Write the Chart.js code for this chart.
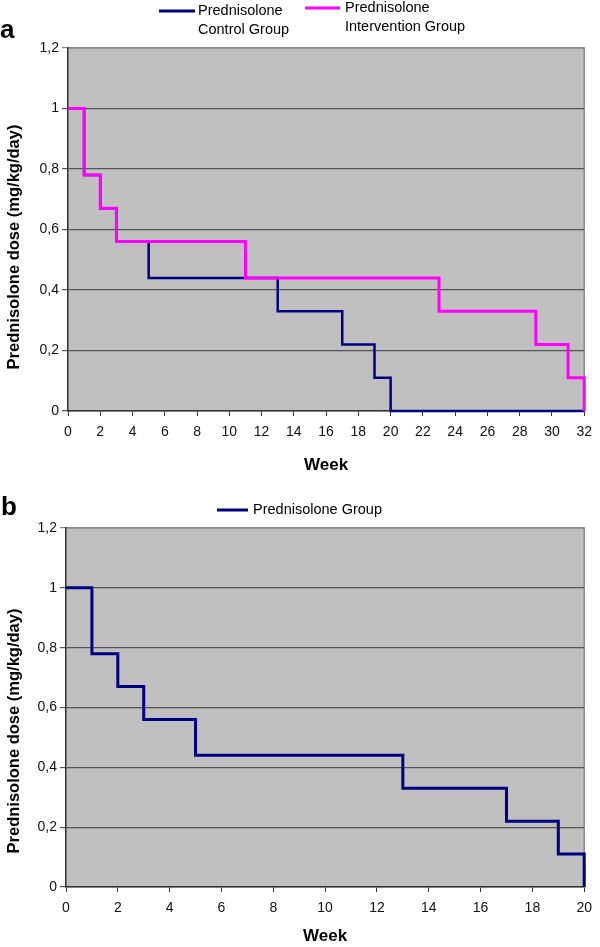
<!DOCTYPE html>
<html><head><meta charset="utf-8">
<script src="https://cdn.jsdelivr.net/npm/chart.js@4.4.1/dist/chart.umd.min.js"></script>
<style>
html,body{margin:0;padding:0;background:#fff;width:600px;height:947px;overflow:hidden;}
.wrap{position:absolute;left:0;width:600px;}
</style></head><body>
<div class="wrap" style="top:0;height:480px"><canvas id="chartA"></canvas></div>
<div class="wrap" style="top:480px;height:467px"><canvas id="chartB"></canvas></div>
<script>
// ---- data ----
const weeksControl = [0, 1, 2, 3, 5, 13, 17, 19, 20, 32];
const doseControl = [1, 0.78, 0.67, 0.56, 0.44, 0.33, 0.22, 0.11, 0, 0];
const weeksIntervention = [0, 1, 2, 3, 11, 23, 29, 31, 32];
const doseIntervention = [1, 0.78, 0.67, 0.56, 0.44, 0.33, 0.22, 0.11, 0];
const weeksGroupB = [0, 1, 2, 3, 5, 13, 17, 19, 20];
const doseGroupB = [1, 0.78, 0.67, 0.56, 0.44, 0.33, 0.22, 0.11, 0];
const yTickValues = [0, 0.2, 0.4, 0.6, 0.8, 1, 1.2];
const yTickLabels = ['0', '0,2', '0,4', '0,6', '0,8', '1', '1,2'];
const seriesNamesA = [['Prednisolone', 'Control Group'], ['Prednisolone', 'Intervention Group']];
const seriesNameB = ['Prednisolone Group'];
const yTitle = 'Prednisolone dose (mg/kg/day)';
const xTitle = 'Week';

const FONT = '"Liberation Sans", Arial, sans-serif';
const NAVY = '#000080', MAGENTA = '#FF00FF';

function pts(xs, ys) { return xs.map((x, i) => ({x: x, y: ys[i]})); }
function yLabel(v) {
  const i = yTickValues.findIndex(t => Math.abs(t - v) < 1e-6);
  return i >= 0 ? yTickLabels[i] : '';
}

const annotPlugin = {
  id: 'annot',
  beforeDraw(chart, args, o) {
    const {ctx, chartArea: a} = chart;
    ctx.save();
    ctx.fillStyle = '#C0C0C0';
    ctx.fillRect(a.left, a.top, a.right - a.left, a.bottom - a.top);
    ctx.strokeStyle = '#8a8a8a'; ctx.lineWidth = 1.5;
    ctx.beginPath();
    ctx.moveTo(a.left, a.top); ctx.lineTo(a.right, a.top); ctx.lineTo(a.right, a.bottom);
    ctx.stroke();
    ctx.restore();
  },
  afterDraw(chart, args, o) {
    const ctx = chart.ctx;
    ctx.save();
    ctx.fillStyle = '#000';
    ctx.font = 'bold 26px ' + FONT;
    ctx.textAlign = 'left'; ctx.textBaseline = 'alphabetic';
    ctx.fillText(o.panel.text, o.panel.x, o.panel.y);
    ctx.save();
    ctx.translate(o.yTitle.x, o.yTitle.y);
    ctx.rotate(-Math.PI / 2);
    ctx.font = 'bold 16.5px ' + FONT;
    ctx.textAlign = 'center'; ctx.textBaseline = 'middle';
    ctx.fillText(yTitle, 0, 0);
    ctx.restore();
    o.legend.forEach(item => {
      ctx.strokeStyle = item.color; ctx.lineWidth = 3;
      ctx.beginPath(); ctx.moveTo(item.x1, item.y); ctx.lineTo(item.x2, item.y); ctx.stroke();
      ctx.fillStyle = '#000';
      ctx.font = '14.5px ' + FONT;
      ctx.textAlign = 'left'; ctx.textBaseline = 'middle';
      item.text.forEach((t, i) => ctx.fillText(t, item.tx, item.y + i * item.gap));
    });
    ctx.restore();
  }
};

function scales(xMax, yWidth, xHeight, titlePadBottom) {
  return {
    x: {
      type: 'linear', min: 0, max: xMax,
      afterFit: s => { s.height = xHeight; },
      ticks: { stepSize: 2, autoSkip: false, maxRotation: 0, padding: 8,
               color: '#111', font: { family: FONT, size: 14 } },
      grid: { drawOnChartArea: false, drawTicks: true, tickLength: 5, color: '#333', lineWidth: 1 },
      border: { display: true, color: '#333', width: 1.5 },
      title: { display: true, text: xTitle, color: '#000',
               font: { family: FONT, size: 17, weight: 'bold' },
               padding: { top: 0, bottom: titlePadBottom } }
    },
    y: {
      min: 0, max: 1.2,
      afterFit: s => { s.width = yWidth; },
      afterBuildTicks: s => { s.ticks = yTickValues.map(v => ({value: v})); },
      ticks: { padding: 3, color: '#111', font: { family: FONT, size: 14 },
               callback: v => yLabel(v) },
      grid: { drawTicks: true, tickLength: 6,
              color: c => (c.tick && Math.abs(c.tick.value - 1.2) < 1e-6) ? '#8a8a8a' : '#555',
              lineWidth: 1.2 },
      border: { display: true, color: '#333', width: 1.5 },
      title: { display: false }
    }
  };
}

function lineDs(label, xs, ys, color, order, width) {
  return { label: label, data: pts(xs, ys), borderColor: color, backgroundColor: color,
           borderWidth: width, stepped: 'before', pointRadius: 0, fill: false, clip: false,
           borderJoinStyle: 'miter', borderCapStyle: 'butt', order: order };
}

new Chart(document.getElementById('chartA'), {
  type: 'line',
  data: { datasets: [
    lineDs(seriesNamesA[0].join(' '), weeksControl, doseControl, NAVY, 2, 2.5),
    lineDs(seriesNamesA[1].join(' '), weeksIntervention, doseIntervention, MAGENTA, 1, 3)
  ]},
  options: {
    responsive: true, maintainAspectRatio: false, animation: false,
    layout: { padding: { top: 48, right: 8, left: 0, bottom: 0 } },
    scales: scales(32, 68, 69, 4),
    plugins: {
      legend: { display: false }, tooltip: { enabled: false },
      annot: {
        panel: { text: 'a', x: 0, y: 38 },
        yTitle: { x: 14, y: 247 },
        legend: [
          { color: NAVY, x1: 159, x2: 195, y: 11, tx: 198, gap: 19, text: seriesNamesA[0] },
          { color: MAGENTA, x1: 305, x2: 340, y: 8, tx: 345, gap: 19, text: seriesNamesA[1] }
        ]
      }
    }
  },
  plugins: [annotPlugin]
});

new Chart(document.getElementById('chartB'), {
  type: 'line',
  data: { datasets: [ lineDs(seriesNameB[0], weeksGroupB, doseGroupB, NAVY, 1, 3) ] },
  options: {
    responsive: true, maintainAspectRatio: false, animation: false,
    layout: { padding: { top: 48, right: 12, left: 0, bottom: 0 } },
    scales: scales(20, 66, 60, 0),
    plugins: {
      legend: { display: false }, tooltip: { enabled: false },
      annot: {
        panel: { text: 'b', x: 1, y: 35 },
        yTitle: { x: 14, y: 251 },
        legend: [
          { color: NAVY, x1: 217, x2: 248, y: 30, tx: 253, gap: 19, text: seriesNameB }
        ]
      }
    }
  },
  plugins: [annotPlugin]
});
</script>
</body></html>
